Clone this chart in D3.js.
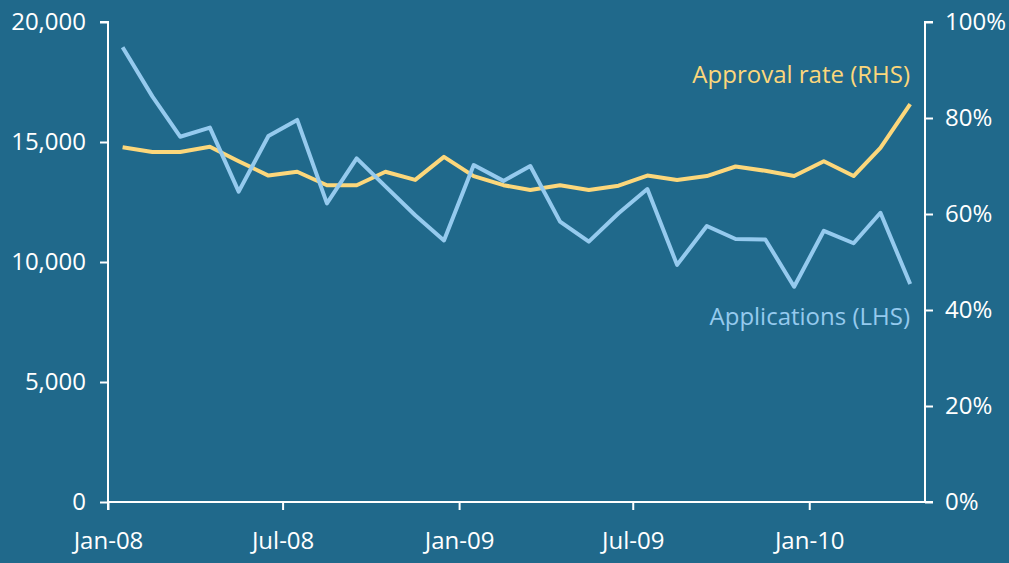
<!DOCTYPE html>
<html>
<head>
<meta charset="utf-8">
<script src="https://cdn.jsdelivr.net/npm/d3@7"></script>
<style>
  html, body { margin: 0; padding: 0; background: #20698b; }
  svg { display: block; }
  .axis text { fill: #fff; font-family: "Open Sans", sans-serif; font-size: 24px; }
  .axis path, .axis line { stroke: #fff; stroke-width: 2; }
</style>
</head>
<body>
<div id="chart"></div>
<script>
// monthly data, Jan-08 .. Apr-10
var months = d3.range(28).map(function(i) { return new Date(2008, i, 1); });
var applications = [18950, 16900, 15220, 15600, 12930, 15250, 15920, 12440, 14320, 13150,
                    11950, 10900, 14040, 13380, 14000, 11680, 10850, 12030, 13040, 9880,
                    11500, 10960, 10940, 8970, 11300, 10780, 12050, 9080];
var approvalRate = [73.9, 72.9, 72.9, 74.0, 71.0, 68.0, 68.8, 66.0, 66.0, 68.8,
                    67.1, 71.9, 67.9, 66.0, 65.0, 66.0, 65.0, 65.9, 68.0, 67.1,
                    67.9, 69.9, 69.0, 67.9, 71.0, 67.9, 73.8, 82.9];
var leftTicks = [0, 5000, 10000, 15000, 20000];
var rightTicks = [0, 20, 40, 60, 80, 100];
var xTicks = [new Date(2008, 0, 1), new Date(2008, 6, 1), new Date(2009, 0, 1),
              new Date(2009, 6, 1), new Date(2010, 0, 1)];

var margin = {top: 22, right: 84, bottom: 61, left: 108},
    width = 1009 - margin.left - margin.right,
    height = 563 - margin.top - margin.bottom;

var svg = d3.select("#chart")
  .append("svg")
    .attr("width", 1009)
    .attr("height", 563)
  .append("g")
    .attr("transform", "translate(" + margin.left + "," + margin.top + ")");

// x: one month ~ 29.17px, points sit mid-month
var x = d3.scaleTime()
  .domain([new Date(2008, 0, 1), new Date(2010, 3, 1)])
  .range([0, 27 * 29.17]);
var xPt = function(d) { return x(d) + 14.6; };

var yL = d3.scaleLinear().domain([0, 20000]).range([height, 0]);
var yR = d3.scaleLinear().domain([0, 100]).range([height, 0]);

// x axis
var xAxis = svg.append("g")
  .attr("class", "axis")
  .attr("transform", "translate(0," + height + ")")
  .call(d3.axisBottom(x).tickValues(xTicks).tickSize(8).tickPadding(22)
    .tickFormat(d3.timeFormat("%b-%y")));
xAxis.select(".domain").attr("d", "M0,0H" + width);

// left axis
var leftAxis = svg.append("g")
  .attr("class", "axis")
  .call(d3.axisLeft(yL).tickValues(leftTicks).tickSize(8).tickPadding(14)
    .tickFormat(d3.format(",")));
leftAxis.select(".domain").attr("d", "M-8,0H0V" + (height + 8));

// right axis
var rightAxis = svg.append("g")
  .attr("class", "axis")
  .attr("transform", "translate(" + width + ",0)")
  .call(d3.axisRight(yR).tickValues(rightTicks).tickSize(8).tickPadding(12)
    .tickFormat(function(d) { return d + "%"; }));
rightAxis.select(".domain").attr("d", "M8,0H0V" + height + "H8");

// lines
svg.append("path")
  .datum(approvalRate)
  .attr("fill", "none")
  .attr("stroke", "#fcd77b")
  .attr("stroke-width", 4)
  .attr("stroke-linejoin", "round")
  .attr("d", d3.line()
    .x(function(d, i) { return xPt(months[i]); })
    .y(function(d) { return yR(d); }));

svg.append("path")
  .datum(applications)
  .attr("fill", "none")
  .attr("stroke", "#95caee")
  .attr("stroke-width", 4)
  .attr("stroke-linejoin", "round")
  .attr("d", d3.line()
    .x(function(d, i) { return xPt(months[i]); })
    .y(function(d) { return yL(d); }));

// labels
svg.append("text")
  .attr("x", 802).attr("y", 61)
  .style("text-anchor", "end")
  .style("font-family", "'Open Sans', sans-serif")
  .style("font-size", "24px")
  .style("fill", "#fcd77b")
  .text("Approval rate (RHS)");

svg.append("text")
  .attr("x", 802).attr("y", 303)
  .style("text-anchor", "end")
  .style("font-family", "'Open Sans', sans-serif")
  .style("font-size", "24px")
  .style("fill", "#95caee")
  .text("Applications (LHS)");
</script>
</body>
</html>
